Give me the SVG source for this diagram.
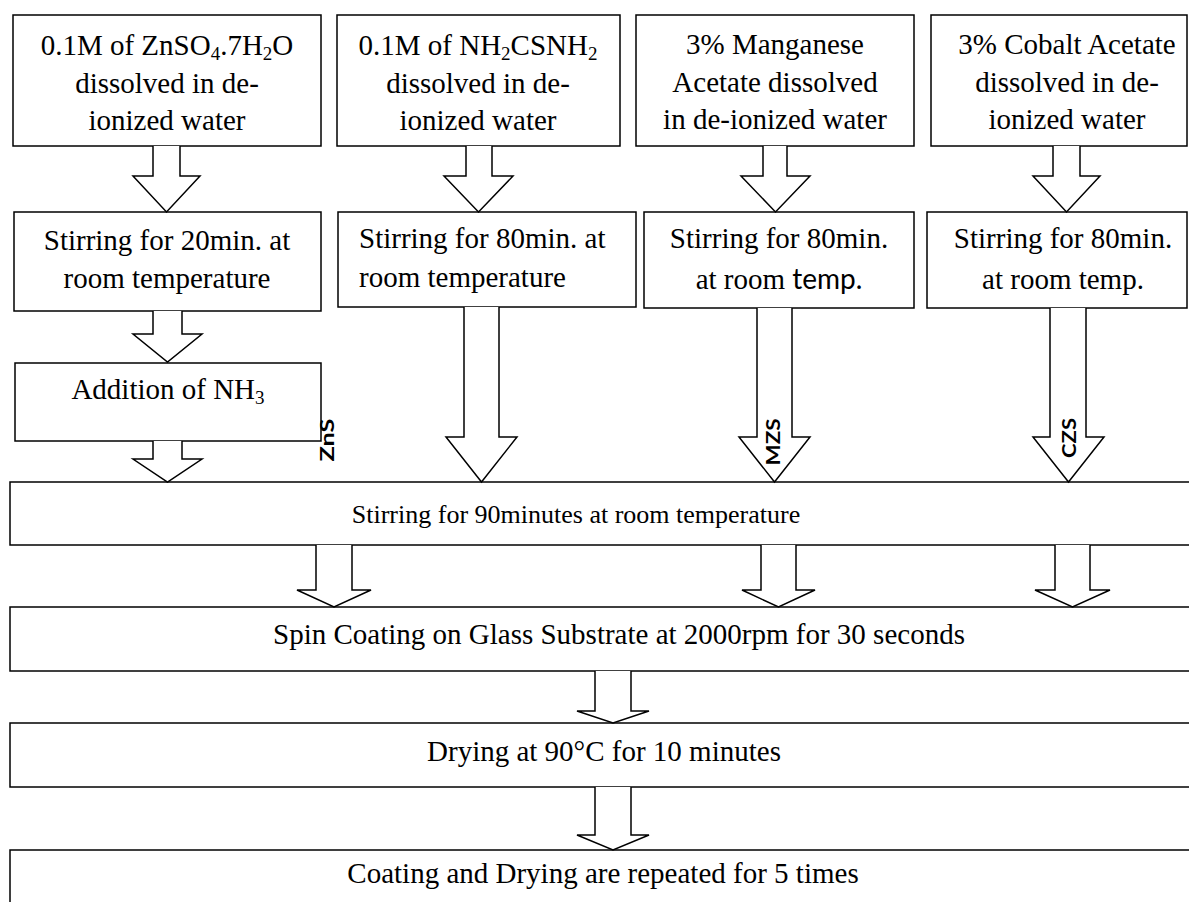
<svg xmlns="http://www.w3.org/2000/svg" width="1189" height="902" viewBox="0 0 1189 902">
<style>
.box{fill:#fff;stroke:#000;stroke-width:1.5}
.arr{fill:#fff;stroke:#000;stroke-width:1.5;stroke-linejoin:miter}
.t{font-family:"Liberation Serif","Times New Roman",serif;font-size:29px;fill:#000;text-anchor:middle}
.tl{font-family:"Liberation Serif","Times New Roman",serif;font-size:29px;fill:#000}
.s{font-size:19px}
.lab{font-family:Lato,"Liberation Sans",sans-serif;font-weight:bold;font-size:19px;fill:#000;text-anchor:middle}
.sans{font-family:Lato,"Liberation Sans",sans-serif;font-size:28px}
.t26{font-size:26px}
</style>
<rect width="1189" height="902" fill="#fff"/>
<g id="n1"><rect class="box" x="13" y="15" width="308" height="131"/>
<text class="t" x="167" y="55">0.1M of ZnSO<tspan class="s" dy="5">4</tspan><tspan dy="-5">.7H</tspan><tspan class="s" dy="5">2</tspan><tspan dy="-5">O</tspan></text>
<text class="t" x="167" y="93">dissolved in de-</text>
<text class="t" x="167" y="130">ionized water</text></g>
<g id="n2"><rect class="box" x="337" y="15" width="283" height="131"/>
<text class="t" x="478" y="55">0.1M of NH<tspan class="s" dy="5">2</tspan><tspan dy="-5">CSNH</tspan><tspan class="s" dy="5">2</tspan></text>
<text class="t" x="478" y="93">dissolved in de-</text>
<text class="t" x="478" y="130">ionized water</text></g>
<g id="n3"><rect class="box" x="636" y="15" width="278" height="131"/>
<text class="t" x="775" y="54">3% Manganese</text>
<text class="t" x="775" y="92">Acetate dissolved</text>
<text class="t" x="775" y="129">in de-ionized water</text></g>
<g id="n4"><rect class="box" x="931" y="15" width="256" height="131"/>
<text class="t" x="1067" y="54">3% Cobalt Acetate</text>
<text class="t" x="1067" y="92">dissolved in de-</text>
<text class="t" x="1067" y="129">ionized water</text></g>
<g id="n5"><rect class="box" x="14" y="212" width="307" height="99"/>
<text class="t" x="167" y="250">Stirring for 20min. at</text>
<text class="t" x="167" y="288">room temperature</text></g>
<g id="n6"><rect class="box" x="338" y="212" width="298" height="95"/>
<text class="tl" x="359" y="248">Stirring for 80min. at</text>
<text class="tl" x="359" y="287">room temperature</text></g>
<g id="n7"><rect class="box" x="644" y="212" width="270" height="96"/>
<text class="t" x="779" y="248">Stirring for 80min.</text>
<text class="t" x="779" y="289">at room <tspan class="sans">temp.</tspan></text></g>
<g id="n8"><rect class="box" x="927" y="212" width="260" height="96"/>
<text class="t" x="1063" y="248">Stirring for 80min.</text>
<text class="t" x="1063" y="289">at room temp.</text></g>
<g id="n9"><rect class="box" x="15" y="363" width="306" height="78"/>
<text class="t" x="168" y="399">Addition of NH<tspan class="s" dy="5">3</tspan></text></g>
<g id="n10"><rect class="box" x="10" y="482" width="1185" height="63"/>
<text class="t t26" x="576" y="523">Stirring for 90minutes at room temperature</text></g>
<g id="n11"><rect class="box" x="10" y="607" width="1185" height="64"/>
<text class="t" x="619" y="644">Spin Coating on Glass Substrate at 2000rpm for 30 seconds</text></g>
<g id="n12"><rect class="box" x="10" y="723" width="1185" height="64"/>
<text class="t" x="604" y="761">Drying at 90°C for 10 minutes</text></g>
<g id="n13"><rect class="box" x="10" y="850" width="1185" height="60"/>
<text class="t" x="603" y="883">Coating and Drying are repeated for 5 times</text></g>
<g id="connectors">
<path class="arr" d="M153 146 V176 H133 L166.5 212 L200 176 H180 V146"/>
<path class="arr" d="M466 146 V176 H444 L478.5 212 L513 176 H492 V146"/>
<path class="arr" d="M763 146 V176 H741 L775.5 212 L810 176 H787 V146"/>
<path class="arr" d="M1053 146 V176 H1033 L1066.5 212 L1100 176 H1080 V146"/>
<path class="arr" d="M153 311 V334 H133 L167.5 362 L202 334 H182 V311"/>
<path class="arr" d="M464 307 V437 H446 L481.5 482 L517 437 H499 V307"/>
<path class="arr" d="M757 308 V437 H739 L774.5 482 L810 437 H792 V308"/>
<path class="arr" d="M1050 308 V437 H1033 L1068.5 482 L1104 437 H1086 V308"/>
<path class="arr" d="M153 441 V459 H133 L167.5 482 L202 459 H182 V441"/>
<path class="arr" d="M316 545 V590 H297 L334 607 L371 590 H352 V545"/>
<path class="arr" d="M761 545 V590 H742 L778.5 607 L815 590 H796 V545"/>
<path class="arr" d="M1055 545 V590 H1035 L1072.5 607 L1110 590 H1090 V545"/>
<path class="arr" d="M595 671 V711 H577 L613 723 L649 711 H631 V671"/>
<path class="arr" d="M595 787 V835 H577 L613 850 L649 835 H631 V787"/>
<text class="lab" transform="translate(334 440) rotate(-90)" textLength="43" lengthAdjust="spacingAndGlyphs">ZnS</text>
<text class="lab" transform="translate(780 442) rotate(-90)" textLength="47" lengthAdjust="spacingAndGlyphs">MZS</text>
<text class="lab" transform="translate(1076 438) rotate(-90)" textLength="40" lengthAdjust="spacingAndGlyphs">CZS</text>
</g>
</svg>
